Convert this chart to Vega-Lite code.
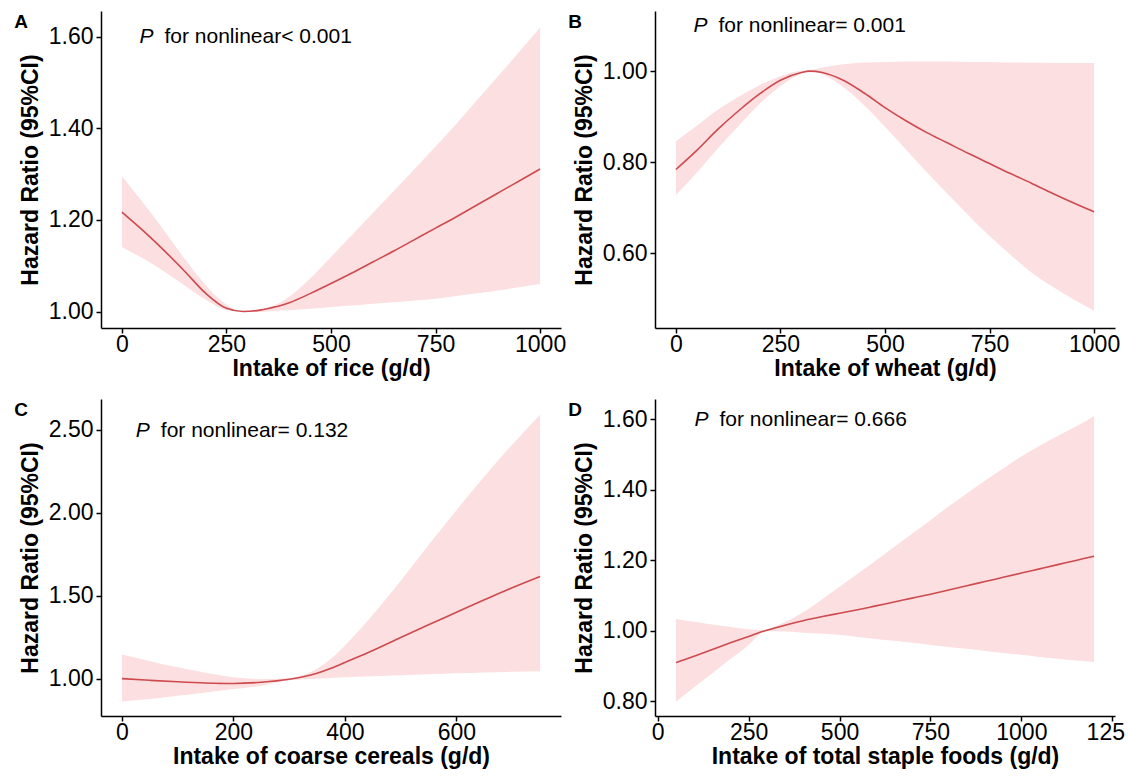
{
  "$schema": "https://vega.github.io/schema/vega-lite/v6.json",
  "background": "white",
  "padding": {"left": 14, "top": 11, "right": 5, "bottom": 8},
  "datasets": {
    "curves": [
      {"panel": "A", "x": 0, "lo": 1.141, "est": 1.217, "hi": 1.295},
      {"panel": "A", "x": 50, "lo": 1.116, "est": 1.177, "hi": 1.238},
      {"panel": "A", "x": 100, "lo": 1.088, "est": 1.134, "hi": 1.178},
      {"panel": "A", "x": 150, "lo": 1.057, "est": 1.088, "hi": 1.115},
      {"panel": "A", "x": 200, "lo": 1.026, "est": 1.040, "hi": 1.058},
      {"panel": "A", "x": 250, "lo": 1.003, "est": 1.007, "hi": 1.015},
      {"panel": "A", "x": 290, "lo": 1.000, "est": 1.000, "hi": 1.000},
      {"panel": "A", "x": 330, "lo": 0.999, "est": 1.003, "hi": 1.004},
      {"panel": "A", "x": 350, "lo": 1.000, "est": 1.0065, "hi": 1.009},
      {"panel": "A", "x": 380, "lo": 1.002, "est": 1.013, "hi": 1.020},
      {"panel": "A", "x": 400, "lo": 1.003, "est": 1.019, "hi": 1.032},
      {"panel": "A", "x": 450, "lo": 1.006, "est": 1.039, "hi": 1.072},
      {"panel": "A", "x": 500, "lo": 1.010, "est": 1.061, "hi": 1.119},
      {"panel": "A", "x": 550, "lo": 1.013, "est": 1.084, "hi": 1.167},
      {"panel": "A", "x": 600, "lo": 1.017, "est": 1.108, "hi": 1.215},
      {"panel": "A", "x": 650, "lo": 1.020, "est": 1.132, "hi": 1.263},
      {"panel": "A", "x": 700, "lo": 1.024, "est": 1.157, "hi": 1.311},
      {"panel": "A", "x": 750, "lo": 1.028, "est": 1.182, "hi": 1.360},
      {"panel": "A", "x": 800, "lo": 1.034, "est": 1.207, "hi": 1.410},
      {"panel": "A", "x": 850, "lo": 1.040, "est": 1.233, "hi": 1.462},
      {"panel": "A", "x": 900, "lo": 1.046, "est": 1.259, "hi": 1.514},
      {"panel": "A", "x": 950, "lo": 1.053, "est": 1.285, "hi": 1.567},
      {"panel": "A", "x": 1000, "lo": 1.060, "est": 1.311, "hi": 1.620},

      {"panel": "B", "x": 0, "lo": 0.728, "est": 0.784, "hi": 0.846},
      {"panel": "B", "x": 50, "lo": 0.777, "est": 0.826, "hi": 0.880},
      {"panel": "B", "x": 100, "lo": 0.830, "est": 0.872, "hi": 0.915},
      {"panel": "B", "x": 150, "lo": 0.880, "est": 0.913, "hi": 0.944},
      {"panel": "B", "x": 200, "lo": 0.928, "est": 0.950, "hi": 0.969},
      {"panel": "B", "x": 250, "lo": 0.967, "est": 0.980, "hi": 0.989},
      {"panel": "B", "x": 300, "lo": 0.994, "est": 0.997, "hi": 1.001},
      {"panel": "B", "x": 320, "lo": 1.000, "est": 1.000, "hi": 1.002},
      {"panel": "B", "x": 350, "lo": 0.993, "est": 0.997, "hi": 1.008},
      {"panel": "B", "x": 400, "lo": 0.965, "est": 0.980, "hi": 1.015},
      {"panel": "B", "x": 450, "lo": 0.925, "est": 0.952, "hi": 1.019},
      {"panel": "B", "x": 500, "lo": 0.878, "est": 0.920, "hi": 1.020},
      {"panel": "B", "x": 550, "lo": 0.828, "est": 0.891, "hi": 1.021},
      {"panel": "B", "x": 600, "lo": 0.778, "est": 0.865, "hi": 1.021},
      {"panel": "B", "x": 650, "lo": 0.730, "est": 0.842, "hi": 1.021},
      {"panel": "B", "x": 700, "lo": 0.683, "est": 0.819, "hi": 1.020},
      {"panel": "B", "x": 750, "lo": 0.638, "est": 0.797, "hi": 1.020},
      {"panel": "B", "x": 800, "lo": 0.597, "est": 0.775, "hi": 1.019},
      {"panel": "B", "x": 850, "lo": 0.558, "est": 0.754, "hi": 1.019},
      {"panel": "B", "x": 900, "lo": 0.527, "est": 0.732, "hi": 1.018},
      {"panel": "B", "x": 950, "lo": 0.499, "est": 0.711, "hi": 1.018},
      {"panel": "B", "x": 1000, "lo": 0.474, "est": 0.691, "hi": 1.018},

      {"panel": "C", "x": 0, "lo": 0.863, "est": 1.000, "hi": 1.145},
      {"panel": "C", "x": 50, "lo": 0.878, "est": 0.990, "hi": 1.105},
      {"panel": "C", "x": 100, "lo": 0.897, "est": 0.981, "hi": 1.068},
      {"panel": "C", "x": 150, "lo": 0.917, "est": 0.974, "hi": 1.035},
      {"panel": "C", "x": 200, "lo": 0.937, "est": 0.971, "hi": 1.008},
      {"panel": "C", "x": 250, "lo": 0.958, "est": 0.978, "hi": 0.997},
      {"panel": "C", "x": 300, "lo": 0.990, "est": 0.996, "hi": 1.002},
      {"panel": "C", "x": 325, "lo": 0.997, "est": 1.011, "hi": 1.022},
      {"panel": "C", "x": 350, "lo": 1.000, "est": 1.032, "hi": 1.060},
      {"panel": "C", "x": 375, "lo": 1.004, "est": 1.062, "hi": 1.120},
      {"panel": "C", "x": 400, "lo": 1.008, "est": 1.098, "hi": 1.200},
      {"panel": "C", "x": 450, "lo": 1.015, "est": 1.170, "hi": 1.385},
      {"panel": "C", "x": 500, "lo": 1.021, "est": 1.248, "hi": 1.590},
      {"panel": "C", "x": 550, "lo": 1.027, "est": 1.325, "hi": 1.805},
      {"panel": "C", "x": 600, "lo": 1.032, "est": 1.400, "hi": 2.015},
      {"panel": "C", "x": 650, "lo": 1.037, "est": 1.475, "hi": 2.218},
      {"panel": "C", "x": 700, "lo": 1.041, "est": 1.548, "hi": 2.410},
      {"panel": "C", "x": 750, "lo": 1.045, "est": 1.616, "hi": 2.590},

      {"panel": "D", "x": 50, "lo": 0.799, "est": 0.910, "hi": 1.034},
      {"panel": "D", "x": 100, "lo": 0.840, "est": 0.928, "hi": 1.026},
      {"panel": "D", "x": 150, "lo": 0.880, "est": 0.947, "hi": 1.018},
      {"panel": "D", "x": 200, "lo": 0.920, "est": 0.966, "hi": 1.011},
      {"panel": "D", "x": 250, "lo": 0.960, "est": 0.984, "hi": 1.005},
      {"panel": "D", "x": 290, "lo": 0.997, "est": 0.999, "hi": 1.002},
      {"panel": "D", "x": 300, "lo": 0.999, "est": 1.002, "hi": 1.005},
      {"panel": "D", "x": 350, "lo": 0.998, "est": 1.016, "hi": 1.025},
      {"panel": "D", "x": 400, "lo": 0.995, "est": 1.029, "hi": 1.053},
      {"panel": "D", "x": 450, "lo": 0.992, "est": 1.040, "hi": 1.088},
      {"panel": "D", "x": 500, "lo": 0.989, "est": 1.050, "hi": 1.125},
      {"panel": "D", "x": 550, "lo": 0.983, "est": 1.060, "hi": 1.162},
      {"panel": "D", "x": 600, "lo": 0.977, "est": 1.071, "hi": 1.200},
      {"panel": "D", "x": 650, "lo": 0.972, "est": 1.082, "hi": 1.238},
      {"panel": "D", "x": 700, "lo": 0.966, "est": 1.093, "hi": 1.276},
      {"panel": "D", "x": 750, "lo": 0.960, "est": 1.104, "hi": 1.314},
      {"panel": "D", "x": 800, "lo": 0.954, "est": 1.116, "hi": 1.353},
      {"panel": "D", "x": 850, "lo": 0.949, "est": 1.128, "hi": 1.390},
      {"panel": "D", "x": 900, "lo": 0.943, "est": 1.140, "hi": 1.426},
      {"panel": "D", "x": 950, "lo": 0.937, "est": 1.152, "hi": 1.461},
      {"panel": "D", "x": 1000, "lo": 0.932, "est": 1.164, "hi": 1.495},
      {"panel": "D", "x": 1050, "lo": 0.926, "est": 1.176, "hi": 1.525},
      {"panel": "D", "x": 1100, "lo": 0.921, "est": 1.188, "hi": 1.553},
      {"panel": "D", "x": 1150, "lo": 0.916, "est": 1.200, "hi": 1.580},
      {"panel": "D", "x": 1200, "lo": 0.912, "est": 1.212, "hi": 1.610}
    ],
    "notes": [
      {"panel": "A", "x": 42, "y": 1.600, "p": "P", "label": "for nonlinear< 0.001"},
      {"panel": "B", "x": 42, "y": 1.098, "p": "P", "label": "for nonlinear= 0.001"},
      {"panel": "C", "x": 25, "y": 2.495, "p": "P", "label": "for nonlinear= 0.132"},
      {"panel": "D", "x": 101, "y": 1.597, "p": "P", "label": "for nonlinear= 0.666"}
    ]
  },
  "concat": [
    {
      "width": 460, "height": 317,
      "title": {"text": "A"},
      "layer": [
        {"data": {"name": "curves"}, "transform": [{"filter": "datum.panel == 'A'"}],
         "mark": {"type": "area", "color": "#FCDFE0", "interpolate": "monotone"},
         "encoding": {
           "x": {"field": "x", "type": "quantitative", "scale": {"domain": [-50, 1050], "nice": false, "zero": false},
                 "axis": {"title": "Intake of rice (g/d)", "values": [0, 250, 500, 750, 1000], "format": "d"}},
           "y": {"field": "lo", "type": "quantitative", "scale": {"domain": [0.964, 1.656], "nice": false, "zero": false},
                 "axis": {"title": "Hazard Ratio (95%CI)", "values": [1.0, 1.2, 1.4, 1.6], "format": ".2f"}},
           "y2": {"field": "hi"}}},
        {"data": {"name": "curves"}, "transform": [{"filter": "datum.panel == 'A'"}],
         "mark": {"type": "line", "color": "#CD4A4F", "strokeWidth": 1.6, "interpolate": "monotone"},
         "encoding": {"x": {"field": "x", "type": "quantitative"}, "y": {"field": "est", "type": "quantitative"}}},
        {"mark": {"type": "rule", "color": "#333333", "strokeWidth": 1.8, "strokeDash": [6, 4]},
         "encoding": {"y": {"datum": 1}}},
        {"data": {"name": "notes"}, "transform": [{"filter": "datum.panel == 'A'"}],
         "mark": {"type": "text", "align": "left", "baseline": "middle", "fontSize": 21, "fontStyle": "italic"},
         "encoding": {"x": {"field": "x", "type": "quantitative"}, "y": {"field": "y", "type": "quantitative"}, "text": {"field": "p"}}},
        {"data": {"name": "notes"}, "transform": [{"filter": "datum.panel == 'A'"}],
         "mark": {"type": "text", "align": "left", "baseline": "middle", "fontSize": 21, "dx": 25},
         "encoding": {"x": {"field": "x", "type": "quantitative"}, "y": {"field": "y", "type": "quantitative"}, "text": {"field": "label"}}}
      ]
    },
    {
      "width": 460, "height": 317,
      "title": {"text": "B"},
      "layer": [
        {"data": {"name": "curves"}, "transform": [{"filter": "datum.panel == 'B'"}],
         "mark": {"type": "area", "color": "#FCDFE0", "interpolate": "monotone"},
         "encoding": {
           "x": {"field": "x", "type": "quantitative", "scale": {"domain": [-50, 1050], "nice": false, "zero": false},
                 "axis": {"title": "Intake of wheat (g/d)", "values": [0, 250, 500, 750, 1000], "format": "d"}},
           "y": {"field": "lo", "type": "quantitative", "scale": {"domain": [0.436, 1.132], "nice": false, "zero": false},
                 "axis": {"title": "Hazard Ratio (95%CI)", "values": [0.6, 0.8, 1.0], "format": ".2f"}},
           "y2": {"field": "hi"}}},
        {"data": {"name": "curves"}, "transform": [{"filter": "datum.panel == 'B'"}],
         "mark": {"type": "line", "color": "#CD4A4F", "strokeWidth": 1.6, "interpolate": "monotone"},
         "encoding": {"x": {"field": "x", "type": "quantitative"}, "y": {"field": "est", "type": "quantitative"}}},
        {"mark": {"type": "rule", "color": "#333333", "strokeWidth": 1.8, "strokeDash": [6, 4]},
         "encoding": {"y": {"datum": 1}}},
        {"data": {"name": "notes"}, "transform": [{"filter": "datum.panel == 'B'"}],
         "mark": {"type": "text", "align": "left", "baseline": "middle", "fontSize": 21, "fontStyle": "italic"},
         "encoding": {"x": {"field": "x", "type": "quantitative"}, "y": {"field": "y", "type": "quantitative"}, "text": {"field": "p"}}},
        {"data": {"name": "notes"}, "transform": [{"filter": "datum.panel == 'B'"}],
         "mark": {"type": "text", "align": "left", "baseline": "middle", "fontSize": 21, "dx": 25},
         "encoding": {"x": {"field": "x", "type": "quantitative"}, "y": {"field": "y", "type": "quantitative"}, "text": {"field": "label"}}}
      ]
    },
    {
      "width": 460, "height": 317,
      "title": {"text": "C"},
      "layer": [
        {"data": {"name": "curves"}, "transform": [{"filter": "datum.panel == 'C'"}],
         "mark": {"type": "area", "color": "#FCDFE0", "interpolate": "monotone"},
         "encoding": {
           "x": {"field": "x", "type": "quantitative", "scale": {"domain": [-37.5, 787.5], "nice": false, "zero": false},
                 "axis": {"title": "Intake of coarse cereals (g/d)", "values": [0, 200, 400, 600], "format": "d"}},
           "y": {"field": "lo", "type": "quantitative", "scale": {"domain": [0.775, 2.685], "nice": false, "zero": false},
                 "axis": {"title": "Hazard Ratio (95%CI)", "values": [1.0, 1.5, 2.0, 2.5], "format": ".2f"}},
           "y2": {"field": "hi"}}},
        {"data": {"name": "curves"}, "transform": [{"filter": "datum.panel == 'C'"}],
         "mark": {"type": "line", "color": "#CD4A4F", "strokeWidth": 1.6, "interpolate": "monotone"},
         "encoding": {"x": {"field": "x", "type": "quantitative"}, "y": {"field": "est", "type": "quantitative"}}},
        {"mark": {"type": "rule", "color": "#333333", "strokeWidth": 1.8, "strokeDash": [6, 4]},
         "encoding": {"y": {"datum": 1}}},
        {"data": {"name": "notes"}, "transform": [{"filter": "datum.panel == 'C'"}],
         "mark": {"type": "text", "align": "left", "baseline": "middle", "fontSize": 21, "fontStyle": "italic"},
         "encoding": {"x": {"field": "x", "type": "quantitative"}, "y": {"field": "y", "type": "quantitative"}, "text": {"field": "p"}}},
        {"data": {"name": "notes"}, "transform": [{"filter": "datum.panel == 'C'"}],
         "mark": {"type": "text", "align": "left", "baseline": "middle", "fontSize": 21, "dx": 25},
         "encoding": {"x": {"field": "x", "type": "quantitative"}, "y": {"field": "y", "type": "quantitative"}, "text": {"field": "label"}}}
      ]
    },
    {
      "width": 460, "height": 317,
      "title": {"text": "D"},
      "layer": [
        {"data": {"name": "curves"}, "transform": [{"filter": "datum.panel == 'D'"}],
         "mark": {"type": "area", "color": "#FCDFE0", "interpolate": "monotone"},
         "encoding": {
           "x": {"field": "x", "type": "quantitative", "scale": {"domain": [-7.5, 1257.5], "nice": false, "zero": false},
                 "axis": {"title": "Intake of total staple foods (g/d)", "values": [0, 250, 500, 750, 1000, 1250], "format": "d",
                          "labelExpr": "datum.value == 1250 ? '125' : datum.label",
                          "labelOffset": {"condition": {"test": "datum.value == 1250", "value": -7}, "value": 0}}},
           "y": {"field": "lo", "type": "quantitative", "scale": {"domain": [0.7585, 1.658], "nice": false, "zero": false},
                 "axis": {"title": "Hazard Ratio (95%CI)", "values": [0.8, 1.0, 1.2, 1.4, 1.6], "format": ".2f"}},
           "y2": {"field": "hi"}}},
        {"data": {"name": "curves"}, "transform": [{"filter": "datum.panel == 'D'"}],
         "mark": {"type": "line", "color": "#CD4A4F", "strokeWidth": 1.6, "interpolate": "monotone"},
         "encoding": {"x": {"field": "x", "type": "quantitative"}, "y": {"field": "est", "type": "quantitative"}}},
        {"mark": {"type": "rule", "color": "#333333", "strokeWidth": 1.8, "strokeDash": [6, 4]},
         "encoding": {"y": {"datum": 1}}},
        {"data": {"name": "notes"}, "transform": [{"filter": "datum.panel == 'D'"}],
         "mark": {"type": "text", "align": "left", "baseline": "middle", "fontSize": 21, "fontStyle": "italic"},
         "encoding": {"x": {"field": "x", "type": "quantitative"}, "y": {"field": "y", "type": "quantitative"}, "text": {"field": "p"}}},
        {"data": {"name": "notes"}, "transform": [{"filter": "datum.panel == 'D'"}],
         "mark": {"type": "text", "align": "left", "baseline": "middle", "fontSize": 21, "dx": 25},
         "encoding": {"x": {"field": "x", "type": "quantitative"}, "y": {"field": "y", "type": "quantitative"}, "text": {"field": "label"}}}
      ]
    }
  ],
  "columns": 2,
  "spacing": {"row": 71, "column": 94},
  "bounds": "flush",
  "config": {
    "font": "Liberation Sans",
    "view": {"stroke": null},
    "text": {"color": "black", "font": "Liberation Sans"},
    "axis": {
      "grid": false,
      "domainColor": "black", "domainWidth": 1.5,
      "tickColor": "black", "tickWidth": 1.5, "tickSize": 5,
      "labelFont": "Liberation Sans", "labelFontSize": 23, "labelColor": "black", "labelPadding": 3,
      "titleFont": "Liberation Sans", "titleFontSize": 23, "titleFontWeight": "bold", "titleColor": "black"
    },
    "axisY": {"titlePadding": 6},
    "axisX": {"labelPadding": 0, "titlePadding": 1},
    "title": {"anchor": "start", "frame": "bounds", "fontSize": 19, "fontWeight": "bold", "color": "black", "font": "Liberation Sans", "baseline": "top", "offset": -4, "dx": -5, "dy": 17}
  }
}
